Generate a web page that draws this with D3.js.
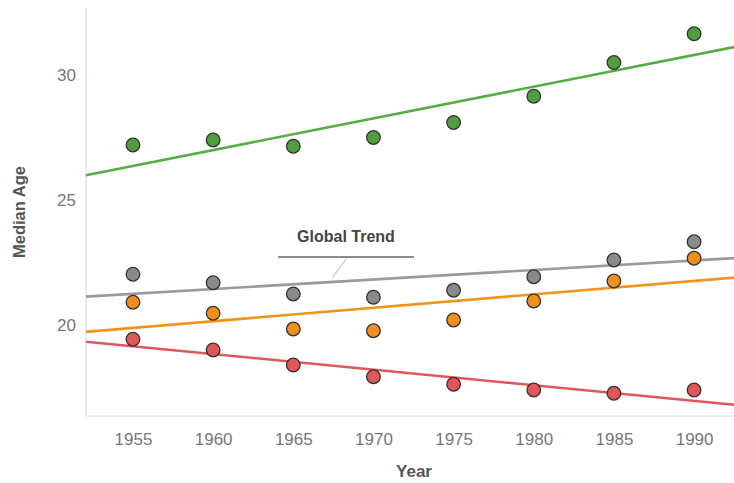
<!DOCTYPE html>
<html>
<head>
<meta charset="utf-8">
<script src="https://cdn.jsdelivr.net/npm/d3@7"></script>
<style>
  html, body { margin: 0; padding: 0; background: #fff; }
  svg { display: block; font-family: "Liberation Sans", Arial, sans-serif; }
</style>
</head>
<body>
<svg id="chart" width="734" height="483"></svg>
<script>
// ---- Data ----
const years = [1955, 1960, 1965, 1970, 1975, 1980, 1985, 1990];
const seriesGreen  = [27.2, 27.4, 27.15, 27.5, 28.1, 29.15, 30.5, 31.65];
const seriesGray   = [22.03, 21.69, 21.24, 21.11, 21.39, 21.93, 22.6, 23.33];
const seriesOrange = [20.91, 20.47, 19.84, 19.77, 20.2, 20.96, 21.76, 22.67];
const seriesRed    = [19.43, 19.0, 18.4, 17.93, 17.63, 17.4, 17.27, 17.4];
const yTicks = [20, 25, 30];
const xTicks = years;
const annotationText = "Global Trend";
const xTitle = "Year";
const yTitle = "Median Age";

const series = [
  { name: "gray",   values: seriesGray,   line: "#9a9a9a", fill: "#8a8a8a" },
  { name: "orange", values: seriesOrange, line: "#f0941f", fill: "#f28e1c" },
  { name: "red",    values: seriesRed,    line: "#e15759", fill: "#e15759" },
  { name: "green",  values: seriesGreen,  line: "#55ad45", fill: "#4f9f3e" }
];

// ---- Layout ----
const svg = d3.select("#chart");
const mLeft = 86, mRight = 734, mTop = 8, mBottom = 416;

const x = d3.scaleLinear().domain([1952.07, 1992.49]).range([mLeft, mRight]);
const y = d3.scaleLinear().domain([16.36, 32.68]).range([mBottom, mTop]);

// axes lines
svg.append("line").attr("x1", mLeft).attr("x2", mLeft).attr("y1", mTop).attr("y2", mBottom)
  .attr("stroke", "#dadada").attr("stroke-width", 1);
svg.append("line").attr("x1", mLeft).attr("x2", mRight).attr("y1", mBottom).attr("y2", mBottom)
  .attr("stroke", "#dadada").attr("stroke-width", 1);

// y axis
const yAxis = d3.axisLeft(y).tickValues(yTicks).tickSize(0).tickPadding(10);
const gy = svg.append("g").attr("transform", `translate(${mLeft},0)`).call(yAxis);
gy.select(".domain").remove();
gy.selectAll("text").attr("font-size", 17).attr("fill", "#777")
  .attr("font-family", "'Liberation Sans', Arial, sans-serif");

// x axis
const xAxis = d3.axisBottom(x).tickValues(xTicks).tickFormat(d3.format("d")).tickSize(0).tickPadding(17);
const gx = svg.append("g").attr("transform", `translate(0,${mBottom})`).call(xAxis);
gx.select(".domain").remove();
gx.selectAll("text").attr("font-size", 17).attr("fill", "#777")
  .attr("font-family", "'Liberation Sans', Arial, sans-serif");

// titles
svg.append("text").attr("x", 414).attr("y", 477).attr("text-anchor", "middle")
  .attr("font-size", 17).attr("font-weight", "bold").attr("fill", "#555").text(xTitle);
svg.append("text").attr("transform", `translate(25,${(mTop + mBottom) / 2}) rotate(-90)`)
  .attr("text-anchor", "middle").attr("font-size", 16.5).attr("font-weight", "bold")
  .attr("fill", "#555").text(yTitle);

// regression helper
function fit(xs, ys) {
  const mx = d3.mean(xs), my = d3.mean(ys);
  let sxy = 0, sxx = 0;
  xs.forEach((xv, i) => { sxy += (xv - mx) * (ys[i] - my); sxx += (xv - mx) ** 2; });
  const b = sxy / sxx;
  return xv => my + b * (xv - mx);
}

const xDom = x.domain();
const lineGen = d3.line().x(d => x(d[0])).y(d => y(d[1]));

// trend lines
series.forEach(s => {
  const f = fit(years, s.values);
  s.fit = f;
  svg.append("path").datum(xDom.map(xv => [xv, f(xv)]))
    .attr("d", lineGen).attr("fill", "none")
    .attr("stroke", s.line).attr("stroke-width", 2.6);
});

// points
series.forEach(s => {
  svg.append("g").selectAll("circle").data(years.map((yr, i) => [yr, s.values[i]]))
    .join("circle")
    .attr("cx", d => x(d[0])).attr("cy", d => y(d[1])).attr("r", 6.8)
    .attr("fill", s.fill).attr("stroke", "#333").attr("stroke-width", 1.3);
});

// annotation
const grayFit = series.find(s => s.name === "gray").fit;
const annX1 = 278, annX2 = 414, annY = 257;
svg.append("line").attr("x1", annX1).attr("x2", annX2).attr("y1", annY).attr("y2", annY)
  .attr("stroke", "#8c8c8c").attr("stroke-width", 2);
const leadYear = x.invert(332);
svg.append("line").attr("x1", 347).attr("y1", annY + 1)
  .attr("x2", 332).attr("y2", y(grayFit(leadYear)) - 4)
  .attr("stroke", "#c4c4c4").attr("stroke-width", 1.2);
svg.append("text").attr("x", 346).attr("y", 242).attr("text-anchor", "middle")
  .attr("font-size", 16).attr("font-weight", "bold").attr("fill", "#444").text(annotationText);
</script>
</body>
</html>
